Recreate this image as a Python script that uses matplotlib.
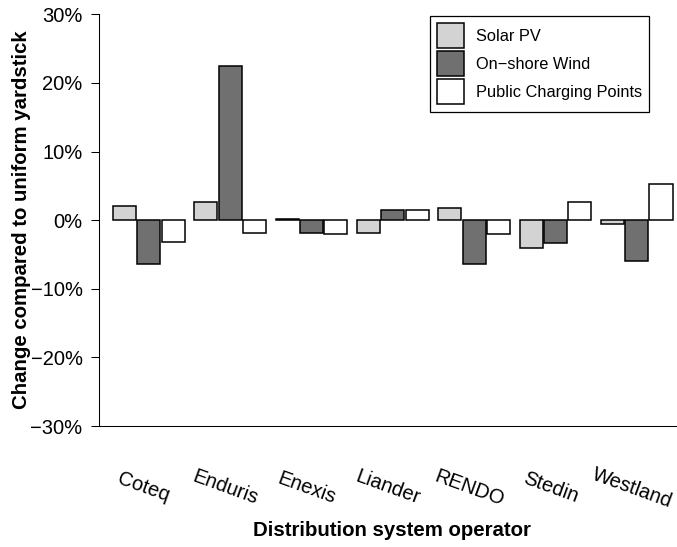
import matplotlib
matplotlib.use("Agg")
import matplotlib.pyplot as plt
import matplotlib.transforms as mtransforms
import numpy as np

plt.rcParams['font.family'] = ['Liberation Sans', 'DejaVu Sans']

operators = ["Coteq", "Enduris", "Enexis", "Liander", "RENDO", "Stedin", "Westland"]
solar_pv = [2.0, 2.7, 0.1, -1.9, 1.7, -4.0, -0.5]
onshore_wind = [-6.4, 22.5, -1.85, 1.45, -6.4, -3.3, -6.0]
charging_points = [-3.25, -1.85, -2.0, 1.45, -2.0, 2.6, 5.25]

series = [
    ("Solar PV", solar_pv, "#d3d3d3"),
    ("On\u2212shore Wind", onshore_wind, "#707070"),
    ("Public Charging Points", charging_points, "#ffffff"),
]
yticks = [-30, -20, -10, 0, 10, 20, 30]

W, H = 677, 547
fs = 14.5
fig = plt.figure(figsize=(W / 100, H / 100), dpi=100)
ax = fig.add_axes([99 / W, (H - 426) / H, (W - 99) / W, (426 - 14.3) / H])

pitch = 3.347
group_x = np.arange(len(operators)) * pitch
for i, (name, vals, col) in enumerate(series):
    ax.bar(group_x + i, vals, width=0.95, color=col, edgecolor="black",
           linewidth=1.1, label=name)

ax.set_xlim(-1.05, 22.74)
ax.set_ylim(-30, 30)
ax.set_yticks(yticks)
ax.set_yticklabels([f"{v}%".replace("-", "\u2212") for v in yticks], fontsize=fs)
ax.tick_params(axis="y", length=5.8, width=0.75, pad=6.0, color="black")
ax.set_xticks([])
for s in ["top", "right"]:
    ax.spines[s].set_visible(False)
for s in ["left", "bottom"]:
    ax.spines[s].set_linewidth(0.75)

trans = mtransforms.blended_transform_factory(ax.transData, ax.transAxes)
for gx, op in zip(group_x, operators):
    ax.text(gx + 0.8, -0.15, op, transform=trans, rotation=-20,
            ha="center", va="center", fontsize=fs)

fig.text(392 / W, (H - 531) / H, "Distribution system operator",
         ha="center", va="center", fontsize=14.7, fontweight="bold")
fig.text(22 / W, (H - 220) / H, "Change compared to uniform yardstick",
         ha="center", va="center", rotation=90, fontsize=14.7, fontweight="bold")

leg = ax.legend(loc="upper right", bbox_to_anchor=(649 / W, (H - 16) / H),
                bbox_transform=fig.transFigure, fontsize=11.8, frameon=True,
                fancybox=False, framealpha=1, edgecolor="black",
                handlelength=1.65, handleheight=1.97, labelspacing=0.18,
                handletextpad=0.7, borderpad=0.45, borderaxespad=0)
leg.get_frame().set_linewidth(0.9)

fig.savefig("out.png", dpi=100)
